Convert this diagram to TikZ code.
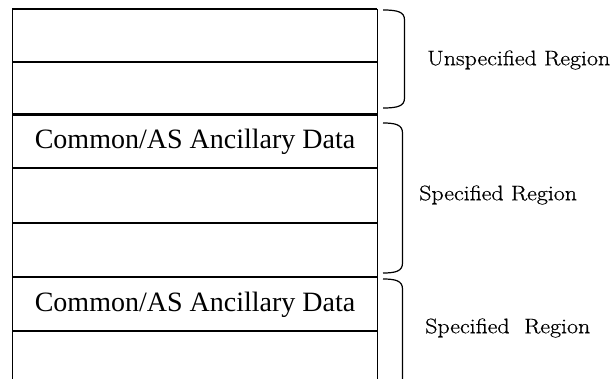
\documentclass[tikz,border=0pt]{standalone}
\usepackage{fontspec}
\newfontfamily\timesfont{Liberation Serif}
\newfontfamily\regionfont[FakeStretch=1.14,FakeBold=0.6]{Latin Modern Roman}
\tikzset{
  rowline/.style={line width=2.3pt},
  sideline/.style={line width=1.6pt},
  bracket/.style={line width=1.2pt},
  celltext/.style={font=\timesfont\fontsize{28}{30}\selectfont, inner sep=0pt},
  regiontext/.style={font=\regionfont\fontsize{21}{23}\selectfont, inner sep=0pt, anchor=west}
}
\begin{document}
\begin{tikzpicture}[x=1pt,y=-1pt]
\useasboundingbox (0,0) rectangle (615,379);
% outer sides of the stack
\draw[sideline] (12.3,9) -- (12.3,382);
\draw[sideline] (377.3,9) -- (377.3,382);
% row separators
\foreach \yy in {9,62,114.5,168,223,277,331}
  \draw[rowline] (12.3,\yy) -- (377.3,\yy);
% cell texts
\node[celltext] (anc1) at (195,141.5) {Common/AS Ancillary Data};
\node[celltext] (anc2) at (195,304.5) {Common/AS Ancillary Data};
% region brackets
\draw[bracket] (383,10) .. controls (398,10) and (404.5,12) .. (404.5,20)
  -- (404.5,98) .. controls (404.5,106) and (398,108) .. (383,108);
\draw[bracket] (383,123) .. controls (396,123) and (402.5,125) .. (402.5,133)
  -- (402.5,263) .. controls (402.5,271) and (396,273) .. (383,273);
\draw[bracket] (383,279) .. controls (396,279) and (402.5,281) .. (402.5,289)
  -- (402.5,385);
% region labels
\node[regiontext] (unspec) at (427,60) {Unspecified Region};
\node[regiontext] (spec1) at (419,195) {Specified Region};
\node[regiontext] (spec2) at (425,328) {Specified\ \ Region};
\end{tikzpicture}
\end{document}
